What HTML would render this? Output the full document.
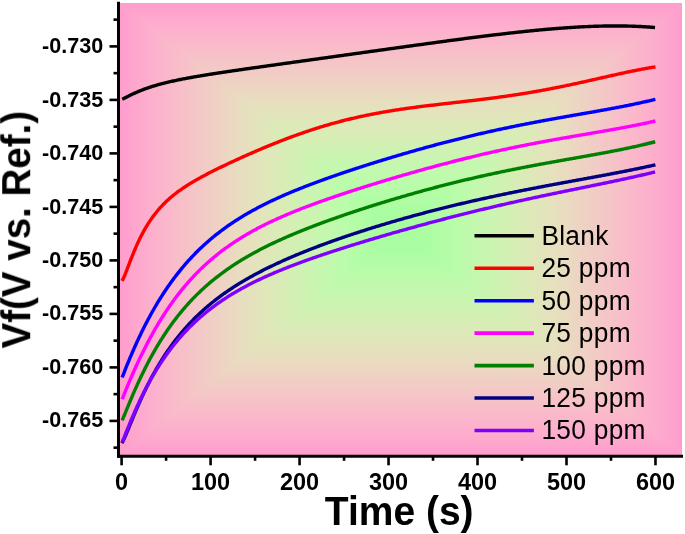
<!DOCTYPE html>
<html><head><meta charset="utf-8"><style>
html,body{margin:0;padding:0;background:#fff;width:685px;height:534px;overflow:hidden}
svg{display:block}
text{will-change:transform}
text{font-family:"Liberation Sans",sans-serif}
</style></head><body>
<svg width="685" height="534" viewBox="0 0 685 534">
<defs>
<linearGradient id="gh" gradientUnits="userSpaceOnUse" x1="120" y1="0" x2="682" y2="0"><stop offset="0.0000" stop-color="rgb(255, 157, 205)"/>
<stop offset="0.0450" stop-color="rgb(253, 172, 205)"/>
<stop offset="0.0900" stop-color="rgb(250, 185, 202)"/>
<stop offset="0.1300" stop-color="rgb(245, 197, 199)"/>
<stop offset="0.1700" stop-color="rgb(239, 208, 196)"/>
<stop offset="0.2100" stop-color="rgb(233, 220, 192)"/>
<stop offset="0.2500" stop-color="rgb(226, 229, 187)"/>
<stop offset="0.3000" stop-color="rgb(214, 238, 181)"/>
<stop offset="0.3500" stop-color="rgb(200, 246, 176)"/>
<stop offset="0.4000" stop-color="rgb(186, 252, 170)"/>
<stop offset="0.4500" stop-color="rgb(172, 253, 162)"/>
<stop offset="0.5000" stop-color="rgb(166, 254, 158)"/>
<stop offset="0.5500" stop-color="rgb(172, 253, 162)"/>
<stop offset="0.6000" stop-color="rgb(186, 252, 170)"/>
<stop offset="0.6500" stop-color="rgb(200, 246, 176)"/>
<stop offset="0.7000" stop-color="rgb(214, 238, 181)"/>
<stop offset="0.7500" stop-color="rgb(226, 229, 187)"/>
<stop offset="0.7900" stop-color="rgb(233, 220, 192)"/>
<stop offset="0.8300" stop-color="rgb(239, 208, 196)"/>
<stop offset="0.8700" stop-color="rgb(245, 197, 199)"/>
<stop offset="0.9100" stop-color="rgb(250, 185, 202)"/>
<stop offset="0.9550" stop-color="rgb(253, 172, 205)"/>
<stop offset="1.0000" stop-color="rgb(255, 157, 205)"/></linearGradient><linearGradient id="gv" gradientUnits="userSpaceOnUse" x1="0" y1="3" x2="0" y2="455"><stop offset="0.0000" stop-color="rgb(255, 157, 205)"/>
<stop offset="0.0450" stop-color="rgb(253, 172, 205)"/>
<stop offset="0.0900" stop-color="rgb(250, 185, 202)"/>
<stop offset="0.1300" stop-color="rgb(245, 197, 199)"/>
<stop offset="0.1700" stop-color="rgb(239, 208, 196)"/>
<stop offset="0.2100" stop-color="rgb(233, 220, 192)"/>
<stop offset="0.2500" stop-color="rgb(226, 229, 187)"/>
<stop offset="0.3000" stop-color="rgb(214, 238, 181)"/>
<stop offset="0.3500" stop-color="rgb(200, 246, 176)"/>
<stop offset="0.4000" stop-color="rgb(186, 252, 170)"/>
<stop offset="0.4500" stop-color="rgb(172, 253, 162)"/>
<stop offset="0.5000" stop-color="rgb(166, 254, 158)"/>
<stop offset="0.5500" stop-color="rgb(172, 253, 162)"/>
<stop offset="0.6000" stop-color="rgb(186, 252, 170)"/>
<stop offset="0.6500" stop-color="rgb(200, 246, 176)"/>
<stop offset="0.7000" stop-color="rgb(214, 238, 181)"/>
<stop offset="0.7500" stop-color="rgb(226, 229, 187)"/>
<stop offset="0.7900" stop-color="rgb(233, 220, 192)"/>
<stop offset="0.8300" stop-color="rgb(239, 208, 196)"/>
<stop offset="0.8700" stop-color="rgb(245, 197, 199)"/>
<stop offset="0.9100" stop-color="rgb(250, 185, 202)"/>
<stop offset="0.9550" stop-color="rgb(253, 172, 205)"/>
<stop offset="1.0000" stop-color="rgb(255, 157, 205)"/></linearGradient>
</defs>
<rect x="0" y="0" width="685" height="534" fill="#fff"/>
<rect x="118.5" y="3" width="563.5" height="452.5" fill="url(#gh)"/>
<path d="M118.5,3 L682,3 L401,229 Z" fill="url(#gv)"/>
<path d="M118.5,455.5 L682,455.5 L401,229 Z" fill="url(#gv)"/>
<g fill="none" stroke-width="3.4" stroke-linecap="butt" stroke-linejoin="round">
<path d="M122.20,99.27 L123.20,98.82 L124.20,98.34 L125.20,97.85 L126.20,97.34 L127.20,96.83 L128.20,96.31 L129.20,95.81 L130.20,95.30 L131.20,94.81 L132.20,94.32 L133.20,93.84 L134.20,93.37 L135.20,92.92 L136.20,92.47 L137.20,92.03 L138.20,91.60 L139.20,91.18 L140.20,90.76 L141.20,90.36 L142.20,89.97 L143.20,89.59 L144.20,89.21 L145.20,88.84 L146.20,88.48 L147.20,88.13 L148.20,87.79 L149.20,87.45 L150.20,87.12 L151.20,86.80 L152.20,86.48 L153.20,86.17 L154.20,85.87 L155.20,85.57 L156.20,85.28 L157.20,84.99 L158.20,84.71 L159.20,84.43 L160.20,84.16 L161.20,83.89 L162.20,83.63 L163.20,83.37 L164.20,83.12 L165.20,82.87 L166.20,82.63 L167.20,82.38 L168.20,82.15 L169.20,81.91 L170.20,81.68 L171.20,81.46 L172.20,81.23 L173.20,81.01 L174.20,80.79 L175.20,80.58 L176.20,80.37 L177.20,80.16 L178.20,79.95 L179.20,79.74 L180.20,79.54 L181.20,79.34 L182.20,79.15 L183.20,78.95 L184.20,78.76 L185.20,78.57 L186.20,78.38 L187.20,78.19 L188.20,78.00 L189.20,77.82 L190.20,77.64 L191.20,77.46 L192.20,77.28 L193.20,77.10 L194.20,76.92 L195.20,76.75 L196.20,76.58 L197.20,76.40 L198.20,76.23 L199.20,76.06 L200.20,75.90 L201.20,75.73 L202.20,75.56 L203.20,75.40 L204.20,75.23 L205.20,75.07 L206.20,74.91 L207.20,74.75 L208.20,74.59 L209.20,74.43 L210.20,74.27 L211.20,74.11 L212.20,73.95 L213.20,73.80 L214.20,73.64 L215.20,73.48 L216.20,73.33 L217.20,73.18 L218.20,73.02 L219.20,72.87 L220.20,72.72 L221.20,72.57 L222.20,72.42 L223.20,72.27 L224.20,72.12 L225.20,71.97 L226.20,71.82 L227.20,71.67 L228.20,71.52 L229.20,71.37 L230.20,71.22 L231.20,71.08 L232.20,70.93 L233.20,70.78 L234.20,70.64 L235.20,70.49 L236.20,70.35 L237.20,70.20 L238.20,70.06 L239.20,69.91 L240.20,69.77 L241.20,69.62 L242.20,69.48 L243.20,69.33 L244.20,69.19 L245.20,69.05 L246.20,68.90 L247.20,68.76 L248.20,68.62 L249.20,68.48 L250.20,68.33 L251.20,68.19 L252.20,68.05 L253.20,67.91 L254.20,67.77 L255.20,67.62 L256.20,67.48 L257.20,67.34 L258.20,67.20 L259.20,67.06 L260.20,66.92 L261.20,66.78 L262.20,66.64 L263.20,66.50 L264.20,66.35 L265.20,66.21 L266.20,66.07 L267.20,65.93 L268.20,65.79 L269.20,65.65 L270.20,65.51 L271.20,65.37 L272.20,65.23 L273.20,65.09 L274.20,64.95 L275.20,64.81 L276.20,64.67 L277.20,64.53 L278.20,64.39 L279.20,64.25 L280.20,64.11 L281.20,63.97 L282.20,63.83 L283.20,63.69 L284.20,63.55 L285.20,63.41 L286.20,63.28 L287.20,63.14 L288.20,63.00 L289.20,62.86 L290.20,62.72 L291.20,62.58 L292.20,62.44 L293.20,62.30 L294.20,62.16 L295.20,62.02 L296.20,61.88 L297.20,61.74 L298.20,61.60 L299.20,61.46 L300.20,61.32 L301.20,61.18 L302.20,61.04 L303.20,60.90 L304.20,60.77 L305.20,60.63 L306.20,60.49 L307.20,60.35 L308.20,60.21 L309.20,60.07 L310.20,59.93 L311.20,59.79 L312.20,59.65 L313.20,59.51 L314.20,59.37 L315.20,59.23 L316.20,59.09 L317.20,58.95 L318.20,58.81 L319.20,58.67 L320.20,58.53 L321.20,58.40 L322.20,58.26 L323.20,58.12 L324.20,57.98 L325.20,57.84 L326.20,57.70 L327.20,57.56 L328.20,57.42 L329.20,57.28 L330.20,57.14 L331.20,57.00 L332.20,56.86 L333.20,56.72 L334.20,56.58 L335.20,56.44 L336.20,56.30 L337.20,56.16 L338.20,56.02 L339.20,55.88 L340.20,55.74 L341.20,55.60 L342.20,55.46 L343.20,55.33 L344.20,55.19 L345.20,55.05 L346.20,54.91 L347.20,54.77 L348.20,54.63 L349.20,54.49 L350.20,54.35 L351.20,54.21 L352.20,54.07 L353.20,53.93 L354.20,53.79 L355.20,53.65 L356.20,53.51 L357.20,53.37 L358.20,53.23 L359.20,53.09 L360.20,52.95 L361.20,52.81 L362.20,52.67 L363.20,52.53 L364.20,52.39 L365.20,52.25 L366.20,52.11 L367.20,51.97 L368.20,51.83 L369.20,51.69 L370.20,51.55 L371.20,51.41 L372.20,51.28 L373.20,51.14 L374.20,51.00 L375.20,50.86 L376.20,50.72 L377.20,50.58 L378.20,50.44 L379.20,50.30 L380.20,50.16 L381.20,50.02 L382.20,49.88 L383.20,49.74 L384.20,49.60 L385.20,49.46 L386.20,49.32 L387.20,49.18 L388.20,49.04 L389.20,48.90 L390.20,48.77 L391.20,48.63 L392.20,48.49 L393.20,48.35 L394.20,48.21 L395.20,48.07 L396.20,47.93 L397.20,47.79 L398.20,47.65 L399.20,47.51 L400.20,47.37 L401.20,47.24 L402.20,47.10 L403.20,46.96 L404.20,46.82 L405.20,46.68 L406.20,46.54 L407.20,46.40 L408.20,46.27 L409.20,46.13 L410.20,45.99 L411.20,45.85 L412.20,45.71 L413.20,45.58 L414.20,45.44 L415.20,45.30 L416.20,45.16 L417.20,45.02 L418.20,44.89 L419.20,44.75 L420.20,44.61 L421.20,44.47 L422.20,44.34 L423.20,44.20 L424.20,44.06 L425.20,43.93 L426.20,43.79 L427.20,43.65 L428.20,43.51 L429.20,43.38 L430.20,43.24 L431.20,43.11 L432.20,42.97 L433.20,42.83 L434.20,42.70 L435.20,42.56 L436.20,42.43 L437.20,42.29 L438.20,42.15 L439.20,42.02 L440.20,41.88 L441.20,41.75 L442.20,41.61 L443.20,41.48 L444.20,41.35 L445.20,41.21 L446.20,41.08 L447.20,40.94 L448.20,40.81 L449.20,40.68 L450.20,40.54 L451.20,40.41 L452.20,40.28 L453.20,40.14 L454.20,40.01 L455.20,39.88 L456.20,39.75 L457.20,39.61 L458.20,39.48 L459.20,39.35 L460.20,39.22 L461.20,39.09 L462.20,38.96 L463.20,38.83 L464.20,38.69 L465.20,38.56 L466.20,38.43 L467.20,38.30 L468.20,38.18 L469.20,38.05 L470.20,37.92 L471.20,37.79 L472.20,37.66 L473.20,37.53 L474.20,37.40 L475.20,37.28 L476.20,37.15 L477.20,37.02 L478.20,36.90 L479.20,36.77 L480.20,36.64 L481.20,36.52 L482.20,36.39 L483.20,36.27 L484.20,36.14 L485.20,36.02 L486.20,35.90 L487.20,35.77 L488.20,35.65 L489.20,35.53 L490.20,35.40 L491.20,35.28 L492.20,35.16 L493.20,35.04 L494.20,34.92 L495.20,34.80 L496.20,34.68 L497.20,34.56 L498.20,34.44 L499.20,34.32 L500.20,34.20 L501.20,34.08 L502.20,33.97 L503.20,33.85 L504.20,33.73 L505.20,33.62 L506.20,33.50 L507.20,33.39 L508.20,33.27 L509.20,33.16 L510.20,33.04 L511.20,32.93 L512.20,32.82 L513.20,32.71 L514.20,32.60 L515.20,32.49 L516.20,32.38 L517.20,32.27 L518.20,32.16 L519.20,32.05 L520.20,31.94 L521.20,31.83 L522.20,31.73 L523.20,31.62 L524.20,31.52 L525.20,31.41 L526.20,31.31 L527.20,31.20 L528.20,31.10 L529.20,31.00 L530.20,30.90 L531.20,30.80 L532.20,30.70 L533.20,30.60 L534.20,30.50 L535.20,30.40 L536.20,30.30 L537.20,30.21 L538.20,30.11 L539.20,30.02 L540.20,29.92 L541.20,29.83 L542.20,29.74 L543.20,29.65 L544.20,29.55 L545.20,29.46 L546.20,29.38 L547.20,29.29 L548.20,29.20 L549.20,29.11 L550.20,29.03 L551.20,28.94 L552.20,28.86 L553.20,28.78 L554.20,28.69 L555.20,28.61 L556.20,28.53 L557.20,28.45 L558.20,28.37 L559.20,28.30 L560.20,28.22 L561.20,28.15 L562.20,28.07 L563.20,28.00 L564.20,27.93 L565.20,27.85 L566.20,27.78 L567.20,27.72 L568.20,27.65 L569.20,27.58 L570.20,27.52 L571.20,27.45 L572.20,27.39 L573.20,27.33 L574.20,27.26 L575.20,27.20 L576.20,27.15 L577.20,27.09 L578.20,27.03 L579.20,26.98 L580.20,26.92 L581.20,26.87 L582.20,26.82 L583.20,26.77 L584.20,26.72 L585.20,26.67 L586.20,26.63 L587.20,26.58 L588.20,26.54 L589.20,26.50 L590.20,26.46 L591.20,26.42 L592.20,26.38 L593.20,26.34 L594.20,26.31 L595.20,26.27 L596.20,26.24 L597.20,26.21 L598.20,26.18 L599.20,26.15 L600.20,26.13 L601.20,26.10 L602.20,26.08 L603.20,26.06 L604.20,26.04 L605.20,26.02 L606.20,26.00 L607.20,25.99 L608.20,25.98 L609.20,25.96 L610.20,25.95 L611.20,25.95 L612.20,25.94 L613.20,25.93 L614.20,25.93 L615.20,25.93 L616.20,25.93 L617.20,25.93 L618.20,25.94 L619.20,25.94 L620.20,25.95 L621.20,25.96 L622.20,25.97 L623.20,25.99 L624.20,26.00 L625.20,26.02 L626.20,26.04 L627.20,26.06 L628.20,26.08 L629.20,26.11 L630.20,26.13 L631.20,26.16 L632.20,26.19 L633.20,26.23 L634.20,26.26 L635.20,26.30 L636.20,26.34 L637.20,26.38 L638.20,26.43 L639.20,26.47 L640.20,26.52 L641.20,26.57 L642.20,26.63 L643.20,26.68 L644.20,26.74 L645.20,26.80 L646.20,26.86 L647.20,26.93 L648.20,26.99 L649.20,27.06 L650.20,27.13 L651.20,27.21 L652.20,27.29 L653.20,27.36 L654.20,27.45 L655.00,27.51" stroke="#000000" />
<path d="M122.00,280.93 L123.00,279.20 L124.00,277.08 L125.00,274.72 L126.00,272.20 L127.00,269.61 L128.00,266.97 L129.00,264.33 L130.00,261.71 L131.00,259.12 L132.00,256.57 L133.00,254.07 L134.00,251.63 L135.00,249.25 L136.00,246.93 L137.00,244.68 L138.00,242.49 L139.00,240.37 L140.00,238.30 L141.00,236.30 L142.00,234.37 L143.00,232.49 L144.00,230.67 L145.00,228.90 L146.00,227.19 L147.00,225.53 L148.00,223.92 L149.00,222.37 L150.00,220.86 L151.00,219.39 L152.00,217.97 L153.00,216.59 L154.00,215.25 L155.00,213.95 L156.00,212.68 L157.00,211.45 L158.00,210.26 L159.00,209.10 L160.00,207.97 L161.00,206.87 L162.00,205.80 L163.00,204.76 L164.00,203.74 L165.00,202.75 L166.00,201.78 L167.00,200.84 L168.00,199.91 L169.00,199.01 L170.00,198.13 L171.00,197.27 L172.00,196.43 L173.00,195.61 L174.00,194.80 L175.00,194.01 L176.00,193.23 L177.00,192.47 L178.00,191.73 L179.00,190.99 L180.00,190.27 L181.00,189.57 L182.00,188.87 L183.00,188.19 L184.00,187.51 L185.00,186.85 L186.00,186.20 L187.00,185.55 L188.00,184.92 L189.00,184.29 L190.00,183.67 L191.00,183.06 L192.00,182.46 L193.00,181.86 L194.00,181.27 L195.00,180.69 L196.00,180.12 L197.00,179.54 L198.00,178.98 L199.00,178.42 L200.00,177.87 L201.00,177.32 L202.00,176.77 L203.00,176.23 L204.00,175.70 L205.00,175.17 L206.00,174.64 L207.00,174.12 L208.00,173.59 L209.00,173.08 L210.00,172.56 L211.00,172.05 L212.00,171.55 L213.00,171.04 L214.00,170.54 L215.00,170.04 L216.00,169.55 L217.00,169.05 L218.00,168.56 L219.00,168.07 L220.00,167.58 L221.00,167.10 L222.00,166.62 L223.00,166.14 L224.00,165.66 L225.00,165.18 L226.00,164.71 L227.00,164.23 L228.00,163.76 L229.00,163.29 L230.00,162.82 L231.00,162.36 L232.00,161.89 L233.00,161.43 L234.00,160.97 L235.00,160.51 L236.00,160.05 L237.00,159.59 L238.00,159.13 L239.00,158.68 L240.00,158.23 L241.00,157.77 L242.00,157.32 L243.00,156.87 L244.00,156.43 L245.00,155.98 L246.00,155.54 L247.00,155.09 L248.00,154.65 L249.00,154.21 L250.00,153.77 L251.00,153.33 L252.00,152.89 L253.00,152.46 L254.00,152.03 L255.00,151.59 L256.00,151.16 L257.00,150.73 L258.00,150.30 L259.00,149.88 L260.00,149.45 L261.00,149.03 L262.00,148.61 L263.00,148.19 L264.00,147.77 L265.00,147.35 L266.00,146.93 L267.00,146.52 L268.00,146.10 L269.00,145.69 L270.00,145.28 L271.00,144.88 L272.00,144.47 L273.00,144.06 L274.00,143.66 L275.00,143.26 L276.00,142.86 L277.00,142.46 L278.00,142.07 L279.00,141.67 L280.00,141.28 L281.00,140.89 L282.00,140.50 L283.00,140.11 L284.00,139.73 L285.00,139.34 L286.00,138.96 L287.00,138.58 L288.00,138.20 L289.00,137.83 L290.00,137.45 L291.00,137.08 L292.00,136.71 L293.00,136.35 L294.00,135.98 L295.00,135.62 L296.00,135.25 L297.00,134.89 L298.00,134.54 L299.00,134.18 L300.00,133.83 L301.00,133.48 L302.00,133.13 L303.00,132.78 L304.00,132.44 L305.00,132.09 L306.00,131.75 L307.00,131.41 L308.00,131.08 L309.00,130.74 L310.00,130.41 L311.00,130.08 L312.00,129.75 L313.00,129.43 L314.00,129.11 L315.00,128.79 L316.00,128.47 L317.00,128.15 L318.00,127.84 L319.00,127.53 L320.00,127.22 L321.00,126.91 L322.00,126.60 L323.00,126.30 L324.00,126.00 L325.00,125.70 L326.00,125.41 L327.00,125.11 L328.00,124.82 L329.00,124.53 L330.00,124.25 L331.00,123.96 L332.00,123.68 L333.00,123.40 L334.00,123.12 L335.00,122.85 L336.00,122.58 L337.00,122.30 L338.00,122.04 L339.00,121.77 L340.00,121.51 L341.00,121.25 L342.00,120.99 L343.00,120.73 L344.00,120.47 L345.00,120.22 L346.00,119.97 L347.00,119.72 L348.00,119.48 L349.00,119.23 L350.00,118.99 L351.00,118.75 L352.00,118.52 L353.00,118.28 L354.00,118.05 L355.00,117.82 L356.00,117.59 L357.00,117.36 L358.00,117.14 L359.00,116.92 L360.00,116.70 L361.00,116.48 L362.00,116.26 L363.00,116.05 L364.00,115.84 L365.00,115.63 L366.00,115.42 L367.00,115.21 L368.00,115.01 L369.00,114.81 L370.00,114.61 L371.00,114.41 L372.00,114.21 L373.00,114.02 L374.00,113.83 L375.00,113.64 L376.00,113.45 L377.00,113.26 L378.00,113.08 L379.00,112.89 L380.00,112.71 L381.00,112.53 L382.00,112.35 L383.00,112.18 L384.00,112.00 L385.00,111.83 L386.00,111.66 L387.00,111.49 L388.00,111.32 L389.00,111.16 L390.00,110.99 L391.00,110.83 L392.00,110.67 L393.00,110.51 L394.00,110.35 L395.00,110.19 L396.00,110.04 L397.00,109.88 L398.00,109.73 L399.00,109.58 L400.00,109.43 L401.00,109.28 L402.00,109.13 L403.00,108.98 L404.00,108.84 L405.00,108.70 L406.00,108.55 L407.00,108.41 L408.00,108.27 L409.00,108.13 L410.00,108.00 L411.00,107.86 L412.00,107.72 L413.00,107.59 L414.00,107.45 L415.00,107.32 L416.00,107.19 L417.00,107.06 L418.00,106.93 L419.00,106.80 L420.00,106.67 L421.00,106.54 L422.00,106.42 L423.00,106.29 L424.00,106.17 L425.00,106.04 L426.00,105.92 L427.00,105.80 L428.00,105.68 L429.00,105.55 L430.00,105.43 L431.00,105.31 L432.00,105.19 L433.00,105.07 L434.00,104.96 L435.00,104.84 L436.00,104.72 L437.00,104.60 L438.00,104.49 L439.00,104.37 L440.00,104.25 L441.00,104.14 L442.00,104.02 L443.00,103.91 L444.00,103.79 L445.00,103.68 L446.00,103.56 L447.00,103.45 L448.00,103.33 L449.00,103.22 L450.00,103.11 L451.00,102.99 L452.00,102.88 L453.00,102.76 L454.00,102.65 L455.00,102.54 L456.00,102.42 L457.00,102.31 L458.00,102.19 L459.00,102.08 L460.00,101.97 L461.00,101.85 L462.00,101.74 L463.00,101.62 L464.00,101.51 L465.00,101.39 L466.00,101.28 L467.00,101.16 L468.00,101.05 L469.00,100.93 L470.00,100.81 L471.00,100.70 L472.00,100.58 L473.00,100.46 L474.00,100.34 L475.00,100.22 L476.00,100.10 L477.00,99.98 L478.00,99.86 L479.00,99.74 L480.00,99.62 L481.00,99.50 L482.00,99.38 L483.00,99.25 L484.00,99.13 L485.00,99.00 L486.00,98.88 L487.00,98.75 L488.00,98.63 L489.00,98.50 L490.00,98.37 L491.00,98.24 L492.00,98.11 L493.00,97.98 L494.00,97.85 L495.00,97.72 L496.00,97.59 L497.00,97.45 L498.00,97.32 L499.00,97.18 L500.00,97.05 L501.00,96.91 L502.00,96.77 L503.00,96.63 L504.00,96.49 L505.00,96.35 L506.00,96.21 L507.00,96.06 L508.00,95.92 L509.00,95.78 L510.00,95.63 L511.00,95.48 L512.00,95.33 L513.00,95.18 L514.00,95.03 L515.00,94.88 L516.00,94.73 L517.00,94.58 L518.00,94.42 L519.00,94.27 L520.00,94.11 L521.00,93.95 L522.00,93.79 L523.00,93.63 L524.00,93.47 L525.00,93.31 L526.00,93.14 L527.00,92.98 L528.00,92.81 L529.00,92.65 L530.00,92.48 L531.00,92.31 L532.00,92.14 L533.00,91.97 L534.00,91.79 L535.00,91.62 L536.00,91.45 L537.00,91.27 L538.00,91.09 L539.00,90.91 L540.00,90.73 L541.00,90.55 L542.00,90.37 L543.00,90.19 L544.00,90.00 L545.00,89.82 L546.00,89.63 L547.00,89.44 L548.00,89.25 L549.00,89.06 L550.00,88.87 L551.00,88.68 L552.00,88.49 L553.00,88.29 L554.00,88.10 L555.00,87.90 L556.00,87.70 L557.00,87.50 L558.00,87.30 L559.00,87.10 L560.00,86.90 L561.00,86.70 L562.00,86.50 L563.00,86.29 L564.00,86.08 L565.00,85.88 L566.00,85.67 L567.00,85.46 L568.00,85.25 L569.00,85.04 L570.00,84.83 L571.00,84.62 L572.00,84.41 L573.00,84.19 L574.00,83.98 L575.00,83.76 L576.00,83.55 L577.00,83.33 L578.00,83.11 L579.00,82.89 L580.00,82.67 L581.00,82.46 L582.00,82.24 L583.00,82.01 L584.00,81.79 L585.00,81.57 L586.00,81.35 L587.00,81.13 L588.00,80.90 L589.00,80.68 L590.00,80.46 L591.00,80.23 L592.00,80.01 L593.00,79.78 L594.00,79.56 L595.00,79.33 L596.00,79.10 L597.00,78.88 L598.00,78.65 L599.00,78.43 L600.00,78.20 L601.00,77.97 L602.00,77.75 L603.00,77.52 L604.00,77.29 L605.00,77.07 L606.00,76.84 L607.00,76.62 L608.00,76.39 L609.00,76.16 L610.00,75.94 L611.00,75.72 L612.00,75.49 L613.00,75.27 L614.00,75.04 L615.00,74.82 L616.00,74.60 L617.00,74.38 L618.00,74.16 L619.00,73.94 L620.00,73.72 L621.00,73.50 L622.00,73.28 L623.00,73.06 L624.00,72.85 L625.00,72.63 L626.00,72.42 L627.00,72.21 L628.00,71.99 L629.00,71.78 L630.00,71.58 L631.00,71.37 L632.00,71.16 L633.00,70.96 L634.00,70.75 L635.00,70.55 L636.00,70.35 L637.00,70.15 L638.00,69.96 L639.00,69.76 L640.00,69.57 L641.00,69.38 L642.00,69.19 L643.00,69.00 L644.00,68.82 L645.00,68.64 L646.00,68.46 L647.00,68.28 L648.00,68.11 L649.00,67.93 L650.00,67.76 L651.00,67.60 L652.00,67.43 L653.00,67.27 L654.00,67.11 L655.00,66.95 L655.50,66.88" stroke="#ff0000" />
<path d="M122.20,377.52 L123.20,374.87 L124.20,372.27 L125.20,369.71 L126.20,367.19 L127.20,364.70 L128.20,362.25 L129.20,359.83 L130.20,357.44 L131.20,355.08 L132.20,352.75 L133.20,350.45 L134.20,348.18 L135.20,345.94 L136.20,343.72 L137.20,341.54 L138.20,339.38 L139.20,337.26 L140.20,335.16 L141.20,333.09 L142.20,331.04 L143.20,329.02 L144.20,327.03 L145.20,325.06 L146.20,323.12 L147.20,321.21 L148.20,319.32 L149.20,317.45 L150.20,315.61 L151.20,313.80 L152.20,312.00 L153.20,310.24 L154.20,308.49 L155.20,306.77 L156.20,305.07 L157.20,303.39 L158.20,301.74 L159.20,300.11 L160.20,298.49 L161.20,296.90 L162.20,295.34 L163.20,293.79 L164.20,292.26 L165.20,290.75 L166.20,289.26 L167.20,287.79 L168.20,286.34 L169.20,284.91 L170.20,283.50 L171.20,282.11 L172.20,280.73 L173.20,279.38 L174.20,278.04 L175.20,276.71 L176.20,275.41 L177.20,274.12 L178.20,272.85 L179.20,271.59 L180.20,270.35 L181.20,269.13 L182.20,267.92 L183.20,266.73 L184.20,265.55 L185.20,264.39 L186.20,263.24 L187.20,262.11 L188.20,260.99 L189.20,259.89 L190.20,258.80 L191.20,257.72 L192.20,256.65 L193.20,255.60 L194.20,254.57 L195.20,253.54 L196.20,252.53 L197.20,251.53 L198.20,250.54 L199.20,249.56 L200.20,248.60 L201.20,247.65 L202.20,246.71 L203.20,245.78 L204.20,244.86 L205.20,243.95 L206.20,243.05 L207.20,242.17 L208.20,241.29 L209.20,240.42 L210.20,239.57 L211.20,238.72 L212.20,237.89 L213.20,237.06 L214.20,236.24 L215.20,235.43 L216.20,234.64 L217.20,233.85 L218.20,233.06 L219.20,232.29 L220.20,231.53 L221.20,230.77 L222.20,230.03 L223.20,229.29 L224.20,228.55 L225.20,227.83 L226.20,227.12 L227.20,226.41 L228.20,225.71 L229.20,225.01 L230.20,224.33 L231.20,223.65 L232.20,222.98 L233.20,222.31 L234.20,221.65 L235.20,221.00 L236.20,220.35 L237.20,219.71 L238.20,219.08 L239.20,218.46 L240.20,217.83 L241.20,217.22 L242.20,216.61 L243.20,216.01 L244.20,215.41 L245.20,214.82 L246.20,214.23 L247.20,213.65 L248.20,213.08 L249.20,212.50 L250.20,211.94 L251.20,211.38 L252.20,210.82 L253.20,210.27 L254.20,209.73 L255.20,209.18 L256.20,208.65 L257.20,208.12 L258.20,207.59 L259.20,207.06 L260.20,206.54 L261.20,206.03 L262.20,205.52 L263.20,205.01 L264.20,204.51 L265.20,204.01 L266.20,203.51 L267.20,203.02 L268.20,202.53 L269.20,202.05 L270.20,201.57 L271.20,201.09 L272.20,200.62 L273.20,200.15 L274.20,199.68 L275.20,199.21 L276.20,198.75 L277.20,198.30 L278.20,197.84 L279.20,197.39 L280.20,196.94 L281.20,196.49 L282.20,196.05 L283.20,195.61 L284.20,195.17 L285.20,194.74 L286.20,194.31 L287.20,193.88 L288.20,193.45 L289.20,193.02 L290.20,192.60 L291.20,192.18 L292.20,191.76 L293.20,191.35 L294.20,190.94 L295.20,190.53 L296.20,190.12 L297.20,189.71 L298.20,189.31 L299.20,188.90 L300.20,188.50 L301.20,188.11 L302.20,187.71 L303.20,187.32 L304.20,186.92 L305.20,186.53 L306.20,186.14 L307.20,185.76 L308.20,185.37 L309.20,184.99 L310.20,184.61 L311.20,184.23 L312.20,183.85 L313.20,183.47 L314.20,183.10 L315.20,182.72 L316.20,182.35 L317.20,181.98 L318.20,181.61 L319.20,181.24 L320.20,180.88 L321.20,180.51 L322.20,180.15 L323.20,179.79 L324.20,179.43 L325.20,179.07 L326.20,178.71 L327.20,178.35 L328.20,178.00 L329.20,177.64 L330.20,177.29 L331.20,176.94 L332.20,176.59 L333.20,176.24 L334.20,175.89 L335.20,175.54 L336.20,175.19 L337.20,174.85 L338.20,174.50 L339.20,174.16 L340.20,173.82 L341.20,173.48 L342.20,173.14 L343.20,172.80 L344.20,172.46 L345.20,172.12 L346.20,171.79 L347.20,171.45 L348.20,171.12 L349.20,170.78 L350.20,170.45 L351.20,170.12 L352.20,169.79 L353.20,169.46 L354.20,169.13 L355.20,168.80 L356.20,168.48 L357.20,168.15 L358.20,167.82 L359.20,167.50 L360.20,167.18 L361.20,166.85 L362.20,166.53 L363.20,166.21 L364.20,165.89 L365.20,165.57 L366.20,165.25 L367.20,164.93 L368.20,164.61 L369.20,164.30 L370.20,163.98 L371.20,163.67 L372.20,163.35 L373.20,163.04 L374.20,162.72 L375.20,162.41 L376.20,162.10 L377.20,161.79 L378.20,161.48 L379.20,161.17 L380.20,160.86 L381.20,160.55 L382.20,160.25 L383.20,159.94 L384.20,159.63 L385.20,159.33 L386.20,159.03 L387.20,158.72 L388.20,158.42 L389.20,158.12 L390.20,157.82 L391.20,157.52 L392.20,157.22 L393.20,156.92 L394.20,156.62 L395.20,156.32 L396.20,156.02 L397.20,155.73 L398.20,155.43 L399.20,155.14 L400.20,154.84 L401.20,154.55 L402.20,154.25 L403.20,153.96 L404.20,153.67 L405.20,153.38 L406.20,153.09 L407.20,152.80 L408.20,152.51 L409.20,152.22 L410.20,151.94 L411.20,151.65 L412.20,151.36 L413.20,151.08 L414.20,150.80 L415.20,150.51 L416.20,150.23 L417.20,149.95 L418.20,149.67 L419.20,149.38 L420.20,149.10 L421.20,148.83 L422.20,148.55 L423.20,148.27 L424.20,147.99 L425.20,147.72 L426.20,147.44 L427.20,147.17 L428.20,146.89 L429.20,146.62 L430.20,146.35 L431.20,146.07 L432.20,145.80 L433.20,145.53 L434.20,145.26 L435.20,145.00 L436.20,144.73 L437.20,144.46 L438.20,144.19 L439.20,143.93 L440.20,143.66 L441.20,143.40 L442.20,143.14 L443.20,142.88 L444.20,142.61 L445.20,142.35 L446.20,142.09 L447.20,141.83 L448.20,141.58 L449.20,141.32 L450.20,141.06 L451.20,140.81 L452.20,140.55 L453.20,140.30 L454.20,140.04 L455.20,139.79 L456.20,139.54 L457.20,139.29 L458.20,139.04 L459.20,138.79 L460.20,138.54 L461.20,138.29 L462.20,138.04 L463.20,137.80 L464.20,137.55 L465.20,137.31 L466.20,137.07 L467.20,136.82 L468.20,136.58 L469.20,136.34 L470.20,136.10 L471.20,135.86 L472.20,135.62 L473.20,135.38 L474.20,135.15 L475.20,134.91 L476.20,134.68 L477.20,134.44 L478.20,134.21 L479.20,133.97 L480.20,133.74 L481.20,133.51 L482.20,133.28 L483.20,133.05 L484.20,132.82 L485.20,132.60 L486.20,132.37 L487.20,132.14 L488.20,131.92 L489.20,131.69 L490.20,131.47 L491.20,131.25 L492.20,131.03 L493.20,130.80 L494.20,130.58 L495.20,130.37 L496.20,130.15 L497.20,129.93 L498.20,129.71 L499.20,129.50 L500.20,129.28 L501.20,129.07 L502.20,128.85 L503.20,128.64 L504.20,128.43 L505.20,128.22 L506.20,128.01 L507.20,127.80 L508.20,127.59 L509.20,127.38 L510.20,127.17 L511.20,126.97 L512.20,126.76 L513.20,126.55 L514.20,126.35 L515.20,126.15 L516.20,125.94 L517.20,125.74 L518.20,125.54 L519.20,125.34 L520.20,125.14 L521.20,124.94 L522.20,124.74 L523.20,124.55 L524.20,124.35 L525.20,124.15 L526.20,123.96 L527.20,123.76 L528.20,123.57 L529.20,123.37 L530.20,123.18 L531.20,122.99 L532.20,122.80 L533.20,122.61 L534.20,122.42 L535.20,122.23 L536.20,122.04 L537.20,121.85 L538.20,121.66 L539.20,121.47 L540.20,121.29 L541.20,121.10 L542.20,120.91 L543.20,120.73 L544.20,120.54 L545.20,120.36 L546.20,120.18 L547.20,119.99 L548.20,119.81 L549.20,119.63 L550.20,119.45 L551.20,119.27 L552.20,119.09 L553.20,118.91 L554.20,118.73 L555.20,118.55 L556.20,118.37 L557.20,118.19 L558.20,118.01 L559.20,117.83 L560.20,117.65 L561.20,117.48 L562.20,117.30 L563.20,117.12 L564.20,116.95 L565.20,116.77 L566.20,116.59 L567.20,116.42 L568.20,116.24 L569.20,116.07 L570.20,115.89 L571.20,115.72 L572.20,115.54 L573.20,115.37 L574.20,115.19 L575.20,115.02 L576.20,114.84 L577.20,114.67 L578.20,114.50 L579.20,114.32 L580.20,114.15 L581.20,113.97 L582.20,113.80 L583.20,113.62 L584.20,113.45 L585.20,113.28 L586.20,113.10 L587.20,112.93 L588.20,112.75 L589.20,112.58 L590.20,112.40 L591.20,112.23 L592.20,112.05 L593.20,111.87 L594.20,111.70 L595.20,111.52 L596.20,111.34 L597.20,111.17 L598.20,110.99 L599.20,110.81 L600.20,110.63 L601.20,110.45 L602.20,110.27 L603.20,110.09 L604.20,109.91 L605.20,109.73 L606.20,109.55 L607.20,109.37 L608.20,109.19 L609.20,109.00 L610.20,108.82 L611.20,108.64 L612.20,108.45 L613.20,108.26 L614.20,108.08 L615.20,107.89 L616.20,107.70 L617.20,107.51 L618.20,107.32 L619.20,107.13 L620.20,106.94 L621.20,106.74 L622.20,106.55 L623.20,106.35 L624.20,106.16 L625.20,105.96 L626.20,105.76 L627.20,105.56 L628.20,105.36 L629.20,105.16 L630.20,104.96 L631.20,104.75 L632.20,104.55 L633.20,104.34 L634.20,104.13 L635.20,103.92 L636.20,103.71 L637.20,103.49 L638.20,103.28 L639.20,103.06 L640.20,102.85 L641.20,102.63 L642.20,102.40 L643.20,102.18 L644.20,101.96 L645.20,101.73 L646.20,101.50 L647.20,101.27 L648.20,101.04 L649.20,100.81 L650.20,100.57 L651.20,100.33 L652.20,100.09 L653.20,99.85 L654.20,99.61 L655.20,99.36 L655.40,99.31" stroke="#0000ff" />
<path d="M122.20,399.25 L123.20,396.68 L124.20,394.15 L125.20,391.65 L126.20,389.19 L127.20,386.76 L128.20,384.36 L129.20,381.98 L130.20,379.63 L131.20,377.31 L132.20,375.01 L133.20,372.74 L134.20,370.49 L135.20,368.27 L136.20,366.07 L137.20,363.90 L138.20,361.76 L139.20,359.64 L140.20,357.54 L141.20,355.47 L142.20,353.42 L143.20,351.40 L144.20,349.40 L145.20,347.42 L146.20,345.47 L147.20,343.54 L148.20,341.64 L149.20,339.76 L150.20,337.90 L151.20,336.07 L152.20,334.26 L153.20,332.47 L154.20,330.70 L155.20,328.96 L156.20,327.24 L157.20,325.54 L158.20,323.86 L159.20,322.20 L160.20,320.56 L161.20,318.94 L162.20,317.35 L163.20,315.77 L164.20,314.22 L165.20,312.68 L166.20,311.17 L167.20,309.67 L168.20,308.19 L169.20,306.73 L170.20,305.29 L171.20,303.87 L172.20,302.47 L173.20,301.08 L174.20,299.71 L175.20,298.36 L176.20,297.03 L177.20,295.71 L178.20,294.41 L179.20,293.13 L180.20,291.86 L181.20,290.61 L182.20,289.38 L183.20,288.16 L184.20,286.96 L185.20,285.77 L186.20,284.59 L187.20,283.44 L188.20,282.29 L189.20,281.16 L190.20,280.05 L191.20,278.94 L192.20,277.86 L193.20,276.78 L194.20,275.72 L195.20,274.67 L196.20,273.64 L197.20,272.62 L198.20,271.61 L199.20,270.61 L200.20,269.63 L201.20,268.65 L202.20,267.69 L203.20,266.74 L204.20,265.81 L205.20,264.88 L206.20,263.96 L207.20,263.06 L208.20,262.17 L209.20,261.28 L210.20,260.41 L211.20,259.55 L212.20,258.70 L213.20,257.86 L214.20,257.02 L215.20,256.20 L216.20,255.39 L217.20,254.58 L218.20,253.79 L219.20,253.00 L220.20,252.23 L221.20,251.46 L222.20,250.70 L223.20,249.95 L224.20,249.21 L225.20,248.48 L226.20,247.75 L227.20,247.03 L228.20,246.32 L229.20,245.62 L230.20,244.93 L231.20,244.24 L232.20,243.56 L233.20,242.89 L234.20,242.22 L235.20,241.56 L236.20,240.91 L237.20,240.27 L238.20,239.63 L239.20,239.00 L240.20,238.37 L241.20,237.75 L242.20,237.14 L243.20,236.53 L244.20,235.93 L245.20,235.34 L246.20,234.75 L247.20,234.16 L248.20,233.58 L249.20,233.01 L250.20,232.44 L251.20,231.88 L252.20,231.33 L253.20,230.77 L254.20,230.23 L255.20,229.69 L256.20,229.15 L257.20,228.62 L258.20,228.09 L259.20,227.57 L260.20,227.05 L261.20,226.53 L262.20,226.02 L263.20,225.52 L264.20,225.02 L265.20,224.52 L266.20,224.03 L267.20,223.54 L268.20,223.05 L269.20,222.57 L270.20,222.09 L271.20,221.62 L272.20,221.15 L273.20,220.68 L274.20,220.22 L275.20,219.76 L276.20,219.30 L277.20,218.84 L278.20,218.39 L279.20,217.95 L280.20,217.50 L281.20,217.06 L282.20,216.62 L283.20,216.19 L284.20,215.76 L285.20,215.33 L286.20,214.90 L287.20,214.47 L288.20,214.05 L289.20,213.63 L290.20,213.22 L291.20,212.80 L292.20,212.39 L293.20,211.98 L294.20,211.58 L295.20,211.17 L296.20,210.77 L297.20,210.37 L298.20,209.97 L299.20,209.58 L300.20,209.18 L301.20,208.79 L302.20,208.40 L303.20,208.02 L304.20,207.63 L305.20,207.25 L306.20,206.87 L307.20,206.49 L308.20,206.11 L309.20,205.73 L310.20,205.36 L311.20,204.98 L312.20,204.61 L313.20,204.24 L314.20,203.87 L315.20,203.51 L316.20,203.14 L317.20,202.78 L318.20,202.42 L319.20,202.06 L320.20,201.70 L321.20,201.34 L322.20,200.99 L323.20,200.63 L324.20,200.28 L325.20,199.92 L326.20,199.57 L327.20,199.22 L328.20,198.88 L329.20,198.53 L330.20,198.18 L331.20,197.84 L332.20,197.49 L333.20,197.15 L334.20,196.81 L335.20,196.47 L336.20,196.13 L337.20,195.79 L338.20,195.45 L339.20,195.12 L340.20,194.78 L341.20,194.45 L342.20,194.11 L343.20,193.78 L344.20,193.45 L345.20,193.12 L346.20,192.79 L347.20,192.46 L348.20,192.13 L349.20,191.80 L350.20,191.48 L351.20,191.15 L352.20,190.83 L353.20,190.50 L354.20,190.18 L355.20,189.86 L356.20,189.54 L357.20,189.22 L358.20,188.90 L359.20,188.58 L360.20,188.26 L361.20,187.94 L362.20,187.63 L363.20,187.31 L364.20,186.99 L365.20,186.68 L366.20,186.37 L367.20,186.05 L368.20,185.74 L369.20,185.43 L370.20,185.12 L371.20,184.81 L372.20,184.50 L373.20,184.19 L374.20,183.88 L375.20,183.57 L376.20,183.26 L377.20,182.96 L378.20,182.65 L379.20,182.35 L380.20,182.04 L381.20,181.74 L382.20,181.43 L383.20,181.13 L384.20,180.83 L385.20,180.53 L386.20,180.23 L387.20,179.92 L388.20,179.63 L389.20,179.33 L390.20,179.03 L391.20,178.73 L392.20,178.43 L393.20,178.14 L394.20,177.84 L395.20,177.54 L396.20,177.25 L397.20,176.96 L398.20,176.66 L399.20,176.37 L400.20,176.08 L401.20,175.78 L402.20,175.49 L403.20,175.20 L404.20,174.91 L405.20,174.62 L406.20,174.34 L407.20,174.05 L408.20,173.76 L409.20,173.47 L410.20,173.19 L411.20,172.90 L412.20,172.62 L413.20,172.33 L414.20,172.05 L415.20,171.77 L416.20,171.48 L417.20,171.20 L418.20,170.92 L419.20,170.64 L420.20,170.36 L421.20,170.08 L422.20,169.80 L423.20,169.53 L424.20,169.25 L425.20,168.97 L426.20,168.70 L427.20,168.42 L428.20,168.15 L429.20,167.87 L430.20,167.60 L431.20,167.33 L432.20,167.06 L433.20,166.79 L434.20,166.52 L435.20,166.25 L436.20,165.98 L437.20,165.71 L438.20,165.44 L439.20,165.18 L440.20,164.91 L441.20,164.64 L442.20,164.38 L443.20,164.12 L444.20,163.85 L445.20,163.59 L446.20,163.33 L447.20,163.07 L448.20,162.81 L449.20,162.55 L450.20,162.29 L451.20,162.03 L452.20,161.77 L453.20,161.52 L454.20,161.26 L455.20,161.01 L456.20,160.75 L457.20,160.50 L458.20,160.25 L459.20,160.00 L460.20,159.74 L461.20,159.49 L462.20,159.25 L463.20,159.00 L464.20,158.75 L465.20,158.50 L466.20,158.26 L467.20,158.01 L468.20,157.77 L469.20,157.52 L470.20,157.28 L471.20,157.04 L472.20,156.79 L473.20,156.55 L474.20,156.31 L475.20,156.08 L476.20,155.84 L477.20,155.60 L478.20,155.36 L479.20,155.13 L480.20,154.89 L481.20,154.66 L482.20,154.42 L483.20,154.19 L484.20,153.96 L485.20,153.73 L486.20,153.50 L487.20,153.27 L488.20,153.04 L489.20,152.81 L490.20,152.59 L491.20,152.36 L492.20,152.14 L493.20,151.91 L494.20,151.69 L495.20,151.47 L496.20,151.25 L497.20,151.02 L498.20,150.80 L499.20,150.59 L500.20,150.37 L501.20,150.15 L502.20,149.93 L503.20,149.72 L504.20,149.50 L505.20,149.29 L506.20,149.07 L507.20,148.86 L508.20,148.65 L509.20,148.44 L510.20,148.23 L511.20,148.02 L512.20,147.81 L513.20,147.60 L514.20,147.40 L515.20,147.19 L516.20,146.98 L517.20,146.78 L518.20,146.57 L519.20,146.37 L520.20,146.17 L521.20,145.97 L522.20,145.77 L523.20,145.57 L524.20,145.37 L525.20,145.17 L526.20,144.97 L527.20,144.77 L528.20,144.58 L529.20,144.38 L530.20,144.19 L531.20,143.99 L532.20,143.80 L533.20,143.61 L534.20,143.41 L535.20,143.22 L536.20,143.03 L537.20,142.84 L538.20,142.65 L539.20,142.46 L540.20,142.28 L541.20,142.09 L542.20,141.90 L543.20,141.71 L544.20,141.53 L545.20,141.34 L546.20,141.16 L547.20,140.98 L548.20,140.79 L549.20,140.61 L550.20,140.43 L551.20,140.25 L552.20,140.07 L553.20,139.88 L554.20,139.70 L555.20,139.53 L556.20,139.35 L557.20,139.17 L558.20,138.99 L559.20,138.81 L560.20,138.63 L561.20,138.46 L562.20,138.28 L563.20,138.11 L564.20,137.93 L565.20,137.75 L566.20,137.58 L567.20,137.41 L568.20,137.23 L569.20,137.06 L570.20,136.88 L571.20,136.71 L572.20,136.54 L573.20,136.36 L574.20,136.19 L575.20,136.02 L576.20,135.85 L577.20,135.68 L578.20,135.50 L579.20,135.33 L580.20,135.16 L581.20,134.99 L582.20,134.82 L583.20,134.65 L584.20,134.48 L585.20,134.31 L586.20,134.13 L587.20,133.96 L588.20,133.79 L589.20,133.62 L590.20,133.45 L591.20,133.28 L592.20,133.11 L593.20,132.94 L594.20,132.77 L595.20,132.59 L596.20,132.42 L597.20,132.25 L598.20,132.08 L599.20,131.91 L600.20,131.73 L601.20,131.56 L602.20,131.39 L603.20,131.21 L604.20,131.04 L605.20,130.87 L606.20,130.69 L607.20,130.52 L608.20,130.34 L609.20,130.17 L610.20,129.99 L611.20,129.81 L612.20,129.63 L613.20,129.46 L614.20,129.28 L615.20,129.10 L616.20,128.92 L617.20,128.74 L618.20,128.55 L619.20,128.37 L620.20,128.19 L621.20,128.01 L622.20,127.82 L623.20,127.64 L624.20,127.45 L625.20,127.26 L626.20,127.07 L627.20,126.88 L628.20,126.69 L629.20,126.50 L630.20,126.31 L631.20,126.12 L632.20,125.92 L633.20,125.73 L634.20,125.53 L635.20,125.33 L636.20,125.13 L637.20,124.93 L638.20,124.73 L639.20,124.52 L640.20,124.32 L641.20,124.11 L642.20,123.91 L643.20,123.70 L644.20,123.49 L645.20,123.27 L646.20,123.06 L647.20,122.84 L648.20,122.63 L649.20,122.41 L650.20,122.19 L651.20,121.96 L652.20,121.74 L653.20,121.51 L654.20,121.28 L655.20,121.05 L655.40,121.01" stroke="#ff00ff" />
<path d="M122.20,420.31 L123.20,417.93 L124.20,415.52 L125.20,413.09 L126.20,410.65 L127.20,408.22 L128.20,405.80 L129.20,403.39 L130.20,400.99 L131.20,398.62 L132.20,396.27 L133.20,393.95 L134.20,391.65 L135.20,389.37 L136.20,387.12 L137.20,384.90 L138.20,382.71 L139.20,380.54 L140.20,378.40 L141.20,376.29 L142.20,374.21 L143.20,372.16 L144.20,370.13 L145.20,368.13 L146.20,366.16 L147.20,364.21 L148.20,362.29 L149.20,360.40 L150.20,358.53 L151.20,356.69 L152.20,354.88 L153.20,353.09 L154.20,351.32 L155.20,349.58 L156.20,347.87 L157.20,346.18 L158.20,344.51 L159.20,342.86 L160.20,341.24 L161.20,339.64 L162.20,338.06 L163.20,336.50 L164.20,334.97 L165.20,333.46 L166.20,331.96 L167.20,330.49 L168.20,329.04 L169.20,327.61 L170.20,326.19 L171.20,324.80 L172.20,323.43 L173.20,322.07 L174.20,320.73 L175.20,319.41 L176.20,318.11 L177.20,316.82 L178.20,315.56 L179.20,314.31 L180.20,313.07 L181.20,311.85 L182.20,310.65 L183.20,309.46 L184.20,308.29 L185.20,307.14 L186.20,306.00 L187.20,304.87 L188.20,303.76 L189.20,302.66 L190.20,301.58 L191.20,300.51 L192.20,299.45 L193.20,298.41 L194.20,297.38 L195.20,296.36 L196.20,295.36 L197.20,294.37 L198.20,293.39 L199.20,292.42 L200.20,291.46 L201.20,290.52 L202.20,289.58 L203.20,288.66 L204.20,287.75 L205.20,286.85 L206.20,285.96 L207.20,285.08 L208.20,284.21 L209.20,283.35 L210.20,282.51 L211.20,281.67 L212.20,280.84 L213.20,280.02 L214.20,279.21 L215.20,278.40 L216.20,277.61 L217.20,276.83 L218.20,276.05 L219.20,275.28 L220.20,274.53 L221.20,273.77 L222.20,273.03 L223.20,272.30 L224.20,271.57 L225.20,270.85 L226.20,270.14 L227.20,269.44 L228.20,268.74 L229.20,268.05 L230.20,267.36 L231.20,266.69 L232.20,266.02 L233.20,265.36 L234.20,264.70 L235.20,264.05 L236.20,263.41 L237.20,262.77 L238.20,262.14 L239.20,261.51 L240.20,260.89 L241.20,260.28 L242.20,259.67 L243.20,259.07 L244.20,258.47 L245.20,257.88 L246.20,257.29 L247.20,256.71 L248.20,256.13 L249.20,255.56 L250.20,254.99 L251.20,254.43 L252.20,253.87 L253.20,253.32 L254.20,252.77 L255.20,252.23 L256.20,251.69 L257.20,251.16 L258.20,250.63 L259.20,250.10 L260.20,249.58 L261.20,249.06 L262.20,248.54 L263.20,248.03 L264.20,247.53 L265.20,247.02 L266.20,246.52 L267.20,246.03 L268.20,245.54 L269.20,245.05 L270.20,244.56 L271.20,244.08 L272.20,243.60 L273.20,243.13 L274.20,242.65 L275.20,242.18 L276.20,241.72 L277.20,241.25 L278.20,240.79 L279.20,240.34 L280.20,239.88 L281.20,239.43 L282.20,238.98 L283.20,238.54 L284.20,238.09 L285.20,237.65 L286.20,237.21 L287.20,236.78 L288.20,236.34 L289.20,235.91 L290.20,235.48 L291.20,235.06 L292.20,234.63 L293.20,234.21 L294.20,233.79 L295.20,233.38 L296.20,232.96 L297.20,232.55 L298.20,232.14 L299.20,231.73 L300.20,231.32 L301.20,230.92 L302.20,230.51 L303.20,230.11 L304.20,229.71 L305.20,229.32 L306.20,228.92 L307.20,228.53 L308.20,228.14 L309.20,227.75 L310.20,227.36 L311.20,226.97 L312.20,226.58 L313.20,226.20 L314.20,225.82 L315.20,225.44 L316.20,225.06 L317.20,224.68 L318.20,224.31 L319.20,223.93 L320.20,223.56 L321.20,223.19 L322.20,222.82 L323.20,222.45 L324.20,222.08 L325.20,221.72 L326.20,221.35 L327.20,220.99 L328.20,220.63 L329.20,220.27 L330.20,219.91 L331.20,219.55 L332.20,219.19 L333.20,218.84 L334.20,218.48 L335.20,218.13 L336.20,217.78 L337.20,217.43 L338.20,217.08 L339.20,216.73 L340.20,216.38 L341.20,216.03 L342.20,215.69 L343.20,215.34 L344.20,215.00 L345.20,214.66 L346.20,214.32 L347.20,213.98 L348.20,213.64 L349.20,213.30 L350.20,212.96 L351.20,212.63 L352.20,212.29 L353.20,211.96 L354.20,211.62 L355.20,211.29 L356.20,210.96 L357.20,210.63 L358.20,210.30 L359.20,209.97 L360.20,209.65 L361.20,209.32 L362.20,208.99 L363.20,208.67 L364.20,208.35 L365.20,208.02 L366.20,207.70 L367.20,207.38 L368.20,207.06 L369.20,206.74 L370.20,206.42 L371.20,206.10 L372.20,205.79 L373.20,205.47 L374.20,205.16 L375.20,204.84 L376.20,204.53 L377.20,204.22 L378.20,203.90 L379.20,203.59 L380.20,203.28 L381.20,202.97 L382.20,202.67 L383.20,202.36 L384.20,202.05 L385.20,201.75 L386.20,201.44 L387.20,201.14 L388.20,200.83 L389.20,200.53 L390.20,200.23 L391.20,199.93 L392.20,199.63 L393.20,199.33 L394.20,199.03 L395.20,198.73 L396.20,198.44 L397.20,198.14 L398.20,197.85 L399.20,197.55 L400.20,197.26 L401.20,196.96 L402.20,196.67 L403.20,196.38 L404.20,196.09 L405.20,195.80 L406.20,195.51 L407.20,195.23 L408.20,194.94 L409.20,194.65 L410.20,194.37 L411.20,194.08 L412.20,193.80 L413.20,193.52 L414.20,193.23 L415.20,192.95 L416.20,192.67 L417.20,192.39 L418.20,192.11 L419.20,191.84 L420.20,191.56 L421.20,191.28 L422.20,191.01 L423.20,190.73 L424.20,190.46 L425.20,190.19 L426.20,189.91 L427.20,189.64 L428.20,189.37 L429.20,189.10 L430.20,188.83 L431.20,188.57 L432.20,188.30 L433.20,188.03 L434.20,187.77 L435.20,187.50 L436.20,187.24 L437.20,186.98 L438.20,186.71 L439.20,186.45 L440.20,186.19 L441.20,185.93 L442.20,185.68 L443.20,185.42 L444.20,185.16 L445.20,184.90 L446.20,184.65 L447.20,184.39 L448.20,184.14 L449.20,183.89 L450.20,183.64 L451.20,183.39 L452.20,183.14 L453.20,182.89 L454.20,182.64 L455.20,182.39 L456.20,182.14 L457.20,181.90 L458.20,181.65 L459.20,181.41 L460.20,181.17 L461.20,180.92 L462.20,180.68 L463.20,180.44 L464.20,180.20 L465.20,179.96 L466.20,179.72 L467.20,179.49 L468.20,179.25 L469.20,179.02 L470.20,178.78 L471.20,178.55 L472.20,178.31 L473.20,178.08 L474.20,177.85 L475.20,177.62 L476.20,177.39 L477.20,177.16 L478.20,176.93 L479.20,176.71 L480.20,176.48 L481.20,176.26 L482.20,176.03 L483.20,175.81 L484.20,175.58 L485.20,175.36 L486.20,175.14 L487.20,174.92 L488.20,174.70 L489.20,174.48 L490.20,174.26 L491.20,174.05 L492.20,173.83 L493.20,173.62 L494.20,173.40 L495.20,173.19 L496.20,172.97 L497.20,172.76 L498.20,172.55 L499.20,172.34 L500.20,172.13 L501.20,171.92 L502.20,171.71 L503.20,171.50 L504.20,171.30 L505.20,171.09 L506.20,170.88 L507.20,170.68 L508.20,170.48 L509.20,170.27 L510.20,170.07 L511.20,169.87 L512.20,169.67 L513.20,169.47 L514.20,169.27 L515.20,169.07 L516.20,168.87 L517.20,168.67 L518.20,168.47 L519.20,168.28 L520.20,168.08 L521.20,167.89 L522.20,167.69 L523.20,167.50 L524.20,167.30 L525.20,167.11 L526.20,166.92 L527.20,166.73 L528.20,166.54 L529.20,166.35 L530.20,166.16 L531.20,165.97 L532.20,165.78 L533.20,165.59 L534.20,165.40 L535.20,165.22 L536.20,165.03 L537.20,164.85 L538.20,164.66 L539.20,164.48 L540.20,164.29 L541.20,164.11 L542.20,163.92 L543.20,163.74 L544.20,163.56 L545.20,163.37 L546.20,163.19 L547.20,163.01 L548.20,162.83 L549.20,162.65 L550.20,162.47 L551.20,162.29 L552.20,162.11 L553.20,161.93 L554.20,161.75 L555.20,161.57 L556.20,161.39 L557.20,161.21 L558.20,161.04 L559.20,160.86 L560.20,160.68 L561.20,160.50 L562.20,160.33 L563.20,160.15 L564.20,159.97 L565.20,159.79 L566.20,159.62 L567.20,159.44 L568.20,159.26 L569.20,159.09 L570.20,158.91 L571.20,158.73 L572.20,158.56 L573.20,158.38 L574.20,158.21 L575.20,158.03 L576.20,157.85 L577.20,157.68 L578.20,157.50 L579.20,157.32 L580.20,157.14 L581.20,156.97 L582.20,156.79 L583.20,156.61 L584.20,156.44 L585.20,156.26 L586.20,156.08 L587.20,155.90 L588.20,155.72 L589.20,155.54 L590.20,155.36 L591.20,155.18 L592.20,155.00 L593.20,154.82 L594.20,154.64 L595.20,154.46 L596.20,154.28 L597.20,154.10 L598.20,153.91 L599.20,153.73 L600.20,153.54 L601.20,153.36 L602.20,153.17 L603.20,152.99 L604.20,152.80 L605.20,152.61 L606.20,152.43 L607.20,152.24 L608.20,152.05 L609.20,151.86 L610.20,151.67 L611.20,151.48 L612.20,151.28 L613.20,151.09 L614.20,150.89 L615.20,150.70 L616.20,150.50 L617.20,150.30 L618.20,150.11 L619.20,149.91 L620.20,149.71 L621.20,149.50 L622.20,149.30 L623.20,149.10 L624.20,148.89 L625.20,148.68 L626.20,148.48 L627.20,148.27 L628.20,148.06 L629.20,147.84 L630.20,147.63 L631.20,147.42 L632.20,147.20 L633.20,146.98 L634.20,146.76 L635.20,146.54 L636.20,146.32 L637.20,146.10 L638.20,145.87 L639.20,145.64 L640.20,145.41 L641.20,145.18 L642.20,144.95 L643.20,144.72 L644.20,144.48 L645.20,144.24 L646.20,144.00 L647.20,143.76 L648.20,143.52 L649.20,143.27 L650.20,143.02 L651.20,142.77 L652.20,142.52 L653.20,142.26 L654.20,142.01 L655.20,141.75" stroke="#008000" />
<path d="M121.90,443.14 L122.90,441.31 L123.90,439.27 L124.90,437.08 L125.90,434.78 L126.90,432.42 L127.90,430.02 L128.90,427.59 L129.90,425.14 L130.90,422.70 L131.90,420.26 L132.90,417.84 L133.90,415.43 L134.90,413.04 L135.90,410.68 L136.90,408.34 L137.90,406.03 L138.90,403.75 L139.90,401.50 L140.90,399.28 L141.90,397.09 L142.90,394.93 L143.90,392.81 L144.90,390.71 L145.90,388.65 L146.90,386.62 L147.90,384.62 L148.90,382.65 L149.90,380.71 L150.90,378.80 L151.90,376.92 L152.90,375.07 L153.90,373.25 L154.90,371.46 L155.90,369.70 L156.90,367.96 L157.90,366.25 L158.90,364.57 L159.90,362.91 L160.90,361.28 L161.90,359.68 L162.90,358.10 L163.90,356.54 L164.90,355.01 L165.90,353.50 L166.90,352.01 L167.90,350.55 L168.90,349.11 L169.90,347.69 L170.90,346.29 L171.90,344.91 L172.90,343.55 L173.90,342.21 L174.90,340.89 L175.90,339.59 L176.90,338.31 L177.90,337.05 L178.90,335.80 L179.90,334.58 L180.90,333.37 L181.90,332.17 L182.90,331.00 L183.90,329.84 L184.90,328.69 L185.90,327.56 L186.90,326.45 L187.90,325.35 L188.90,324.27 L189.90,323.20 L190.90,322.15 L191.90,321.11 L192.90,320.08 L193.90,319.06 L194.90,318.06 L195.90,317.07 L196.90,316.10 L197.90,315.13 L198.90,314.18 L199.90,313.24 L200.90,312.32 L201.90,311.40 L202.90,310.49 L203.90,309.60 L204.90,308.72 L205.90,307.84 L206.90,306.98 L207.90,306.13 L208.90,305.28 L209.90,304.45 L210.90,303.63 L211.90,302.81 L212.90,302.01 L213.90,301.21 L214.90,300.42 L215.90,299.64 L216.90,298.87 L217.90,298.11 L218.90,297.36 L219.90,296.61 L220.90,295.87 L221.90,295.14 L222.90,294.42 L223.90,293.70 L224.90,292.99 L225.90,292.29 L226.90,291.60 L227.90,290.91 L228.90,290.23 L229.90,289.56 L230.90,288.89 L231.90,288.23 L232.90,287.58 L233.90,286.93 L234.90,286.29 L235.90,285.65 L236.90,285.02 L237.90,284.39 L238.90,283.77 L239.90,283.16 L240.90,282.55 L241.90,281.95 L242.90,281.35 L243.90,280.76 L244.90,280.17 L245.90,279.59 L246.90,279.01 L247.90,278.44 L248.90,277.87 L249.90,277.30 L250.90,276.74 L251.90,276.19 L252.90,275.64 L253.90,275.09 L254.90,274.55 L255.90,274.01 L256.90,273.48 L257.90,272.95 L258.90,272.42 L259.90,271.90 L260.90,271.38 L261.90,270.87 L262.90,270.36 L263.90,269.85 L264.90,269.34 L265.90,268.84 L266.90,268.35 L267.90,267.85 L268.90,267.36 L269.90,266.88 L270.90,266.39 L271.90,265.91 L272.90,265.43 L273.90,264.96 L274.90,264.49 L275.90,264.02 L276.90,263.55 L277.90,263.09 L278.90,262.63 L279.90,262.17 L280.90,261.72 L281.90,261.26 L282.90,260.81 L283.90,260.37 L284.90,259.92 L285.90,259.48 L286.90,259.04 L287.90,258.60 L288.90,258.17 L289.90,257.74 L290.90,257.31 L291.90,256.88 L292.90,256.45 L293.90,256.03 L294.90,255.61 L295.90,255.19 L296.90,254.77 L297.90,254.36 L298.90,253.95 L299.90,253.54 L300.90,253.13 L301.90,252.72 L302.90,252.32 L303.90,251.91 L304.90,251.51 L305.90,251.11 L306.90,250.72 L307.90,250.32 L308.90,249.93 L309.90,249.53 L310.90,249.14 L311.90,248.76 L312.90,248.37 L313.90,247.98 L314.90,247.60 L315.90,247.22 L316.90,246.84 L317.90,246.46 L318.90,246.08 L319.90,245.71 L320.90,245.33 L321.90,244.96 L322.90,244.59 L323.90,244.22 L324.90,243.85 L325.90,243.49 L326.90,243.12 L327.90,242.76 L328.90,242.40 L329.90,242.04 L330.90,241.68 L331.90,241.32 L332.90,240.96 L333.90,240.61 L334.90,240.25 L335.90,239.90 L336.90,239.55 L337.90,239.20 L338.90,238.85 L339.90,238.50 L340.90,238.16 L341.90,237.81 L342.90,237.47 L343.90,237.12 L344.90,236.78 L345.90,236.44 L346.90,236.10 L347.90,235.76 L348.90,235.43 L349.90,235.09 L350.90,234.76 L351.90,234.42 L352.90,234.09 L353.90,233.76 L354.90,233.43 L355.90,233.10 L356.90,232.77 L357.90,232.45 L358.90,232.12 L359.90,231.80 L360.90,231.47 L361.90,231.15 L362.90,230.83 L363.90,230.51 L364.90,230.19 L365.90,229.87 L366.90,229.55 L367.90,229.24 L368.90,228.92 L369.90,228.61 L370.90,228.29 L371.90,227.98 L372.90,227.67 L373.90,227.36 L374.90,227.05 L375.90,226.74 L376.90,226.43 L377.90,226.13 L378.90,225.82 L379.90,225.52 L380.90,225.21 L381.90,224.91 L382.90,224.61 L383.90,224.31 L384.90,224.01 L385.90,223.71 L386.90,223.41 L387.90,223.12 L388.90,222.82 L389.90,222.52 L390.90,222.23 L391.90,221.94 L392.90,221.64 L393.90,221.35 L394.90,221.06 L395.90,220.77 L396.90,220.48 L397.90,220.19 L398.90,219.91 L399.90,219.62 L400.90,219.34 L401.90,219.05 L402.90,218.77 L403.90,218.48 L404.90,218.20 L405.90,217.92 L406.90,217.64 L407.90,217.36 L408.90,217.08 L409.90,216.81 L410.90,216.53 L411.90,216.25 L412.90,215.98 L413.90,215.71 L414.90,215.43 L415.90,215.16 L416.90,214.89 L417.90,214.62 L418.90,214.35 L419.90,214.08 L420.90,213.81 L421.90,213.54 L422.90,213.28 L423.90,213.01 L424.90,212.75 L425.90,212.48 L426.90,212.22 L427.90,211.96 L428.90,211.69 L429.90,211.43 L430.90,211.17 L431.90,210.91 L432.90,210.66 L433.90,210.40 L434.90,210.14 L435.90,209.88 L436.90,209.63 L437.90,209.38 L438.90,209.12 L439.90,208.87 L440.90,208.62 L441.90,208.37 L442.90,208.12 L443.90,207.87 L444.90,207.62 L445.90,207.37 L446.90,207.12 L447.90,206.87 L448.90,206.63 L449.90,206.38 L450.90,206.14 L451.90,205.90 L452.90,205.65 L453.90,205.41 L454.90,205.17 L455.90,204.93 L456.90,204.69 L457.90,204.45 L458.90,204.21 L459.90,203.98 L460.90,203.74 L461.90,203.50 L462.90,203.27 L463.90,203.03 L464.90,202.80 L465.90,202.57 L466.90,202.34 L467.90,202.10 L468.90,201.87 L469.90,201.64 L470.90,201.41 L471.90,201.19 L472.90,200.96 L473.90,200.73 L474.90,200.50 L475.90,200.28 L476.90,200.05 L477.90,199.83 L478.90,199.60 L479.90,199.38 L480.90,199.16 L481.90,198.94 L482.90,198.72 L483.90,198.50 L484.90,198.28 L485.90,198.06 L486.90,197.84 L487.90,197.62 L488.90,197.40 L489.90,197.19 L490.90,196.97 L491.90,196.76 L492.90,196.54 L493.90,196.33 L494.90,196.12 L495.90,195.90 L496.90,195.69 L497.90,195.48 L498.90,195.27 L499.90,195.06 L500.90,194.85 L501.90,194.64 L502.90,194.43 L503.90,194.22 L504.90,194.02 L505.90,193.81 L506.90,193.61 L507.90,193.40 L508.90,193.19 L509.90,192.99 L510.90,192.79 L511.90,192.58 L512.90,192.38 L513.90,192.18 L514.90,191.98 L515.90,191.78 L516.90,191.58 L517.90,191.37 L518.90,191.18 L519.90,190.98 L520.90,190.78 L521.90,190.58 L522.90,190.38 L523.90,190.18 L524.90,189.99 L525.90,189.79 L526.90,189.60 L527.90,189.40 L528.90,189.21 L529.90,189.01 L530.90,188.82 L531.90,188.62 L532.90,188.43 L533.90,188.24 L534.90,188.05 L535.90,187.85 L536.90,187.66 L537.90,187.47 L538.90,187.28 L539.90,187.09 L540.90,186.90 L541.90,186.71 L542.90,186.52 L543.90,186.33 L544.90,186.14 L545.90,185.95 L546.90,185.76 L547.90,185.58 L548.90,185.39 L549.90,185.20 L550.90,185.01 L551.90,184.83 L552.90,184.64 L553.90,184.45 L554.90,184.27 L555.90,184.08 L556.90,183.90 L557.90,183.71 L558.90,183.53 L559.90,183.34 L560.90,183.16 L561.90,182.97 L562.90,182.79 L563.90,182.60 L564.90,182.42 L565.90,182.23 L566.90,182.05 L567.90,181.87 L568.90,181.68 L569.90,181.50 L570.90,181.32 L571.90,181.13 L572.90,180.95 L573.90,180.77 L574.90,180.58 L575.90,180.40 L576.90,180.22 L577.90,180.03 L578.90,179.85 L579.90,179.67 L580.90,179.48 L581.90,179.30 L582.90,179.12 L583.90,178.93 L584.90,178.75 L585.90,178.57 L586.90,178.38 L587.90,178.20 L588.90,178.01 L589.90,177.83 L590.90,177.65 L591.90,177.46 L592.90,177.28 L593.90,177.09 L594.90,176.91 L595.90,176.72 L596.90,176.54 L597.90,176.35 L598.90,176.17 L599.90,175.98 L600.90,175.80 L601.90,175.61 L602.90,175.42 L603.90,175.24 L604.90,175.05 L605.90,174.86 L606.90,174.67 L607.90,174.48 L608.90,174.30 L609.90,174.11 L610.90,173.92 L611.90,173.73 L612.90,173.54 L613.90,173.35 L614.90,173.15 L615.90,172.96 L616.90,172.77 L617.90,172.58 L618.90,172.39 L619.90,172.19 L620.90,172.00 L621.90,171.80 L622.90,171.61 L623.90,171.41 L624.90,171.22 L625.90,171.02 L626.90,170.82 L627.90,170.62 L628.90,170.42 L629.90,170.22 L630.90,170.02 L631.90,169.82 L632.90,169.62 L633.90,169.42 L634.90,169.21 L635.90,169.01 L636.90,168.81 L637.90,168.60 L638.90,168.39 L639.90,168.19 L640.90,167.98 L641.90,167.77 L642.90,167.56 L643.90,167.35 L644.90,167.14 L645.90,166.92 L646.90,166.71 L647.90,166.50 L648.90,166.28 L649.90,166.06 L650.90,165.85 L651.90,165.63 L652.90,165.41 L653.90,165.19 L654.90,164.97 L655.40,164.85" stroke="#000080" />
<path d="M122.20,442.24 L123.20,439.76 L124.20,437.26 L125.20,434.75 L126.20,432.24 L127.20,429.75 L128.20,427.28 L129.20,424.82 L130.20,422.40 L131.20,420.00 L132.20,417.63 L133.20,415.30 L134.20,412.99 L135.20,410.72 L136.20,408.48 L137.20,406.27 L138.20,404.10 L139.20,401.96 L140.20,399.85 L141.20,397.77 L142.20,395.73 L143.20,393.72 L144.20,391.73 L145.20,389.78 L146.20,387.86 L147.20,385.97 L148.20,384.11 L149.20,382.28 L150.20,380.47 L151.20,378.69 L152.20,376.95 L153.20,375.22 L154.20,373.53 L155.20,371.86 L156.20,370.21 L157.20,368.60 L158.20,367.00 L159.20,365.43 L160.20,363.89 L161.20,362.36 L162.20,360.86 L163.20,359.39 L164.20,357.93 L165.20,356.50 L166.20,355.08 L167.20,353.69 L168.20,352.32 L169.20,350.97 L170.20,349.64 L171.20,348.33 L172.20,347.04 L173.20,345.76 L174.20,344.51 L175.20,343.27 L176.20,342.05 L177.20,340.85 L178.20,339.66 L179.20,338.49 L180.20,337.34 L181.20,336.21 L182.20,335.09 L183.20,333.98 L184.20,332.89 L185.20,331.82 L186.20,330.76 L187.20,329.71 L188.20,328.68 L189.20,327.66 L190.20,326.66 L191.20,325.67 L192.20,324.69 L193.20,323.73 L194.20,322.78 L195.20,321.84 L196.20,320.91 L197.20,320.00 L198.20,319.09 L199.20,318.20 L200.20,317.32 L201.20,316.45 L202.20,315.59 L203.20,314.75 L204.20,313.91 L205.20,313.08 L206.20,312.27 L207.20,311.46 L208.20,310.66 L209.20,309.87 L210.20,309.10 L211.20,308.33 L212.20,307.57 L213.20,306.82 L214.20,306.08 L215.20,305.34 L216.20,304.62 L217.20,303.90 L218.20,303.20 L219.20,302.50 L220.20,301.80 L221.20,301.12 L222.20,300.44 L223.20,299.77 L224.20,299.11 L225.20,298.46 L226.20,297.81 L227.20,297.17 L228.20,296.53 L229.20,295.90 L230.20,295.28 L231.20,294.67 L232.20,294.06 L233.20,293.46 L234.20,292.86 L235.20,292.27 L236.20,291.69 L237.20,291.11 L238.20,290.53 L239.20,289.97 L240.20,289.40 L241.20,288.85 L242.20,288.30 L243.20,287.75 L244.20,287.21 L245.20,286.67 L246.20,286.14 L247.20,285.61 L248.20,285.09 L249.20,284.57 L250.20,284.06 L251.20,283.55 L252.20,283.05 L253.20,282.55 L254.20,282.05 L255.20,281.56 L256.20,281.07 L257.20,280.59 L258.20,280.11 L259.20,279.63 L260.20,279.16 L261.20,278.69 L262.20,278.22 L263.20,277.76 L264.20,277.30 L265.20,276.85 L266.20,276.40 L267.20,275.95 L268.20,275.50 L269.20,275.06 L270.20,274.62 L271.20,274.19 L272.20,273.75 L273.20,273.32 L274.20,272.90 L275.20,272.47 L276.20,272.05 L277.20,271.63 L278.20,271.21 L279.20,270.80 L280.20,270.39 L281.20,269.98 L282.20,269.57 L283.20,269.17 L284.20,268.77 L285.20,268.37 L286.20,267.97 L287.20,267.58 L288.20,267.18 L289.20,266.79 L290.20,266.41 L291.20,266.02 L292.20,265.64 L293.20,265.25 L294.20,264.87 L295.20,264.49 L296.20,264.12 L297.20,263.74 L298.20,263.37 L299.20,263.00 L300.20,262.63 L301.20,262.26 L302.20,261.90 L303.20,261.53 L304.20,261.17 L305.20,260.81 L306.20,260.45 L307.20,260.09 L308.20,259.73 L309.20,259.38 L310.20,259.02 L311.20,258.67 L312.20,258.32 L313.20,257.97 L314.20,257.62 L315.20,257.28 L316.20,256.93 L317.20,256.59 L318.20,256.24 L319.20,255.90 L320.20,255.56 L321.20,255.22 L322.20,254.88 L323.20,254.55 L324.20,254.21 L325.20,253.87 L326.20,253.54 L327.20,253.21 L328.20,252.88 L329.20,252.54 L330.20,252.21 L331.20,251.89 L332.20,251.56 L333.20,251.23 L334.20,250.91 L335.20,250.58 L336.20,250.26 L337.20,249.93 L338.20,249.61 L339.20,249.29 L340.20,248.97 L341.20,248.65 L342.20,248.33 L343.20,248.01 L344.20,247.69 L345.20,247.38 L346.20,247.06 L347.20,246.75 L348.20,246.43 L349.20,246.12 L350.20,245.81 L351.20,245.49 L352.20,245.18 L353.20,244.87 L354.20,244.56 L355.20,244.25 L356.20,243.95 L357.20,243.64 L358.20,243.33 L359.20,243.02 L360.20,242.72 L361.20,242.41 L362.20,242.11 L363.20,241.80 L364.20,241.50 L365.20,241.20 L366.20,240.90 L367.20,240.60 L368.20,240.29 L369.20,239.99 L370.20,239.69 L371.20,239.40 L372.20,239.10 L373.20,238.80 L374.20,238.50 L375.20,238.20 L376.20,237.91 L377.20,237.61 L378.20,237.32 L379.20,237.02 L380.20,236.73 L381.20,236.44 L382.20,236.14 L383.20,235.85 L384.20,235.56 L385.20,235.27 L386.20,234.98 L387.20,234.69 L388.20,234.40 L389.20,234.11 L390.20,233.82 L391.20,233.53 L392.20,233.24 L393.20,232.96 L394.20,232.67 L395.20,232.38 L396.20,232.10 L397.20,231.81 L398.20,231.53 L399.20,231.25 L400.20,230.96 L401.20,230.68 L402.20,230.40 L403.20,230.11 L404.20,229.83 L405.20,229.55 L406.20,229.27 L407.20,228.99 L408.20,228.71 L409.20,228.43 L410.20,228.15 L411.20,227.88 L412.20,227.60 L413.20,227.32 L414.20,227.05 L415.20,226.77 L416.20,226.49 L417.20,226.22 L418.20,225.95 L419.20,225.67 L420.20,225.40 L421.20,225.13 L422.20,224.85 L423.20,224.58 L424.20,224.31 L425.20,224.04 L426.20,223.77 L427.20,223.50 L428.20,223.23 L429.20,222.96 L430.20,222.69 L431.20,222.43 L432.20,222.16 L433.20,221.89 L434.20,221.63 L435.20,221.36 L436.20,221.09 L437.20,220.83 L438.20,220.57 L439.20,220.30 L440.20,220.04 L441.20,219.78 L442.20,219.51 L443.20,219.25 L444.20,218.99 L445.20,218.73 L446.20,218.47 L447.20,218.21 L448.20,217.95 L449.20,217.70 L450.20,217.44 L451.20,217.18 L452.20,216.92 L453.20,216.67 L454.20,216.41 L455.20,216.16 L456.20,215.90 L457.20,215.65 L458.20,215.40 L459.20,215.14 L460.20,214.89 L461.20,214.64 L462.20,214.39 L463.20,214.14 L464.20,213.89 L465.20,213.64 L466.20,213.39 L467.20,213.14 L468.20,212.89 L469.20,212.64 L470.20,212.40 L471.20,212.15 L472.20,211.90 L473.20,211.66 L474.20,211.41 L475.20,211.17 L476.20,210.93 L477.20,210.68 L478.20,210.44 L479.20,210.20 L480.20,209.96 L481.20,209.72 L482.20,209.48 L483.20,209.24 L484.20,209.00 L485.20,208.76 L486.20,208.52 L487.20,208.28 L488.20,208.04 L489.20,207.81 L490.20,207.57 L491.20,207.34 L492.20,207.10 L493.20,206.87 L494.20,206.63 L495.20,206.40 L496.20,206.17 L497.20,205.93 L498.20,205.70 L499.20,205.47 L500.20,205.24 L501.20,205.01 L502.20,204.78 L503.20,204.55 L504.20,204.32 L505.20,204.09 L506.20,203.87 L507.20,203.64 L508.20,203.41 L509.20,203.19 L510.20,202.96 L511.20,202.74 L512.20,202.51 L513.20,202.29 L514.20,202.06 L515.20,201.84 L516.20,201.62 L517.20,201.40 L518.20,201.17 L519.20,200.95 L520.20,200.73 L521.20,200.51 L522.20,200.29 L523.20,200.07 L524.20,199.85 L525.20,199.63 L526.20,199.42 L527.20,199.20 L528.20,198.98 L529.20,198.76 L530.20,198.55 L531.20,198.33 L532.20,198.12 L533.20,197.90 L534.20,197.69 L535.20,197.47 L536.20,197.26 L537.20,197.05 L538.20,196.83 L539.20,196.62 L540.20,196.41 L541.20,196.20 L542.20,195.98 L543.20,195.77 L544.20,195.56 L545.20,195.35 L546.20,195.14 L547.20,194.93 L548.20,194.72 L549.20,194.51 L550.20,194.30 L551.20,194.10 L552.20,193.89 L553.20,193.68 L554.20,193.47 L555.20,193.26 L556.20,193.06 L557.20,192.85 L558.20,192.64 L559.20,192.44 L560.20,192.23 L561.20,192.02 L562.20,191.82 L563.20,191.61 L564.20,191.41 L565.20,191.20 L566.20,191.00 L567.20,190.79 L568.20,190.59 L569.20,190.38 L570.20,190.18 L571.20,189.97 L572.20,189.77 L573.20,189.57 L574.20,189.36 L575.20,189.16 L576.20,188.96 L577.20,188.75 L578.20,188.55 L579.20,188.34 L580.20,188.14 L581.20,187.94 L582.20,187.73 L583.20,187.53 L584.20,187.33 L585.20,187.12 L586.20,186.92 L587.20,186.72 L588.20,186.51 L589.20,186.31 L590.20,186.10 L591.20,185.90 L592.20,185.70 L593.20,185.49 L594.20,185.29 L595.20,185.08 L596.20,184.88 L597.20,184.67 L598.20,184.47 L599.20,184.26 L600.20,184.06 L601.20,183.85 L602.20,183.65 L603.20,183.44 L604.20,183.23 L605.20,183.03 L606.20,182.82 L607.20,182.61 L608.20,182.40 L609.20,182.20 L610.20,181.99 L611.20,181.78 L612.20,181.57 L613.20,181.36 L614.20,181.15 L615.20,180.94 L616.20,180.73 L617.20,180.51 L618.20,180.30 L619.20,180.09 L620.20,179.88 L621.20,179.66 L622.20,179.45 L623.20,179.23 L624.20,179.02 L625.20,178.80 L626.20,178.59 L627.20,178.37 L628.20,178.15 L629.20,177.93 L630.20,177.71 L631.20,177.49 L632.20,177.27 L633.20,177.05 L634.20,176.82 L635.20,176.60 L636.20,176.38 L637.20,176.15 L638.20,175.93 L639.20,175.70 L640.20,175.47 L641.20,175.24 L642.20,175.01 L643.20,174.78 L644.20,174.55 L645.20,174.32 L646.20,174.08 L647.20,173.85 L648.20,173.61 L649.20,173.37 L650.20,173.14 L651.20,172.90 L652.20,172.65 L653.20,172.41 L654.20,172.17 L655.10,171.95" stroke="#8000ff" />
</g>
<g stroke-width="3" font-size="26" fill="#000">
<line x1="474.5" y1="235.80" x2="533.9" y2="235.80" stroke="#000000" stroke-width="3.6" />
<text transform="translate(541.4,244.70) scale(1,1.035)" font-size="26.3" letter-spacing="0.3">Blank</text>
<line x1="474.5" y1="268.25" x2="533.9" y2="268.25" stroke="#ff0000" stroke-width="3.6" />
<text transform="translate(541.4,277.15) scale(1,1.035)" font-size="26.3" letter-spacing="0.3">25 ppm</text>
<line x1="474.5" y1="300.70" x2="533.9" y2="300.70" stroke="#0000ff" stroke-width="3.6" />
<text transform="translate(541.4,309.60) scale(1,1.035)" font-size="26.3" letter-spacing="0.3">50 ppm</text>
<line x1="474.5" y1="333.15" x2="533.9" y2="333.15" stroke="#ff00ff" stroke-width="3.6" />
<text transform="translate(541.4,342.05) scale(1,1.035)" font-size="26.3" letter-spacing="0.3">75 ppm</text>
<line x1="474.5" y1="365.60" x2="533.9" y2="365.60" stroke="#008000" stroke-width="3.6" />
<text transform="translate(541.4,374.50) scale(1,1.035)" font-size="26.3" letter-spacing="0.3">100 ppm</text>
<line x1="474.5" y1="398.05" x2="533.9" y2="398.05" stroke="#000080" stroke-width="3.6" />
<text transform="translate(541.4,406.95) scale(1,1.035)" font-size="26.3" letter-spacing="0.3">125 ppm</text>
<line x1="474.5" y1="430.50" x2="533.9" y2="430.50" stroke="#8000ff" stroke-width="3.6" />
<text transform="translate(541.4,439.40) scale(1,1.035)" font-size="26.3" letter-spacing="0.3">150 ppm</text>
</g>
<g font-size="26" fill="#000">
</g>
<g stroke="#000" stroke-width="2.6" fill="none">
<line x1="113.5" y1="19.65" x2="119" y2="19.65" />
<line x1="109.5" y1="46.40" x2="119" y2="46.40" />
<line x1="113.5" y1="73.15" x2="119" y2="73.15" />
<line x1="109.5" y1="99.90" x2="119" y2="99.90" />
<line x1="113.5" y1="126.65" x2="119" y2="126.65" />
<line x1="109.5" y1="153.40" x2="119" y2="153.40" />
<line x1="113.5" y1="180.15" x2="119" y2="180.15" />
<line x1="109.5" y1="206.90" x2="119" y2="206.90" />
<line x1="113.5" y1="233.65" x2="119" y2="233.65" />
<line x1="109.5" y1="260.40" x2="119" y2="260.40" />
<line x1="113.5" y1="287.15" x2="119" y2="287.15" />
<line x1="109.5" y1="313.90" x2="119" y2="313.90" />
<line x1="113.5" y1="340.65" x2="119" y2="340.65" />
<line x1="109.5" y1="367.40" x2="119" y2="367.40" />
<line x1="113.5" y1="394.15" x2="119" y2="394.15" />
<line x1="109.5" y1="420.90" x2="119" y2="420.90" />
<line x1="113.5" y1="447.65" x2="119" y2="447.65" />
<line x1="121.60" y1="455" x2="121.60" y2="465.3" />
<line x1="166.09" y1="455" x2="166.09" y2="460.8" />
<line x1="210.58" y1="455" x2="210.58" y2="465.3" />
<line x1="255.07" y1="455" x2="255.07" y2="460.8" />
<line x1="299.56" y1="455" x2="299.56" y2="465.3" />
<line x1="344.05" y1="455" x2="344.05" y2="460.8" />
<line x1="388.54" y1="455" x2="388.54" y2="465.3" />
<line x1="433.03" y1="455" x2="433.03" y2="460.8" />
<line x1="477.52" y1="455" x2="477.52" y2="465.3" />
<line x1="522.01" y1="455" x2="522.01" y2="460.8" />
<line x1="566.50" y1="455" x2="566.50" y2="465.3" />
<line x1="610.99" y1="455" x2="610.99" y2="460.8" />
<line x1="655.48" y1="455" x2="655.48" y2="465.3" />
<line x1="118.5" y1="1.7" x2="118.5" y2="457.8" stroke-width="3"/>
<line x1="117" y1="456.3" x2="683" y2="456.3" stroke-width="3"/>
</g>
<g font-weight="bold" font-size="20.5" fill="#000" font-family="Liberation Sans">
<text transform="translate(103.2,53.00) scale(1,1.035)" text-anchor="end" font-size="21.6">-0.730</text>
<text transform="translate(103.2,106.50) scale(1,1.035)" text-anchor="end" font-size="21.6">-0.735</text>
<text transform="translate(103.2,160.00) scale(1,1.035)" text-anchor="end" font-size="21.6">-0.740</text>
<text transform="translate(103.2,213.50) scale(1,1.035)" text-anchor="end" font-size="21.6">-0.745</text>
<text transform="translate(103.2,267.00) scale(1,1.035)" text-anchor="end" font-size="21.6">-0.750</text>
<text transform="translate(103.2,320.50) scale(1,1.035)" text-anchor="end" font-size="21.6">-0.755</text>
<text transform="translate(103.2,374.00) scale(1,1.035)" text-anchor="end" font-size="21.6">-0.760</text>
<text transform="translate(103.2,427.50) scale(1,1.035)" text-anchor="end" font-size="21.6">-0.765</text>
<text transform="translate(121.60,489.5) scale(1,1.035)" text-anchor="middle" font-size="23.5">0</text>
<text transform="translate(210.58,489.5) scale(1,1.035)" text-anchor="middle" font-size="23.5">100</text>
<text transform="translate(299.56,489.5) scale(1,1.035)" text-anchor="middle" font-size="23.5">200</text>
<text transform="translate(388.54,489.5) scale(1,1.035)" text-anchor="middle" font-size="23.5">300</text>
<text transform="translate(477.52,489.5) scale(1,1.035)" text-anchor="middle" font-size="23.5">400</text>
<text transform="translate(566.50,489.5) scale(1,1.035)" text-anchor="middle" font-size="23.5">500</text>
<text transform="translate(655.48,489.5) scale(1,1.035)" text-anchor="middle" font-size="23.5">600</text>
</g>
<text transform="translate(399.2,524.8) scale(1,1.035)" text-anchor="middle" font-weight="bold" font-size="39">Time (s)</text>
<text transform="translate(30,229.7) rotate(-90) scale(1,1.05)" text-anchor="middle" font-weight="bold" font-size="38.5">Vf(V vs. Ref.)</text>
</svg>
</body></html>
